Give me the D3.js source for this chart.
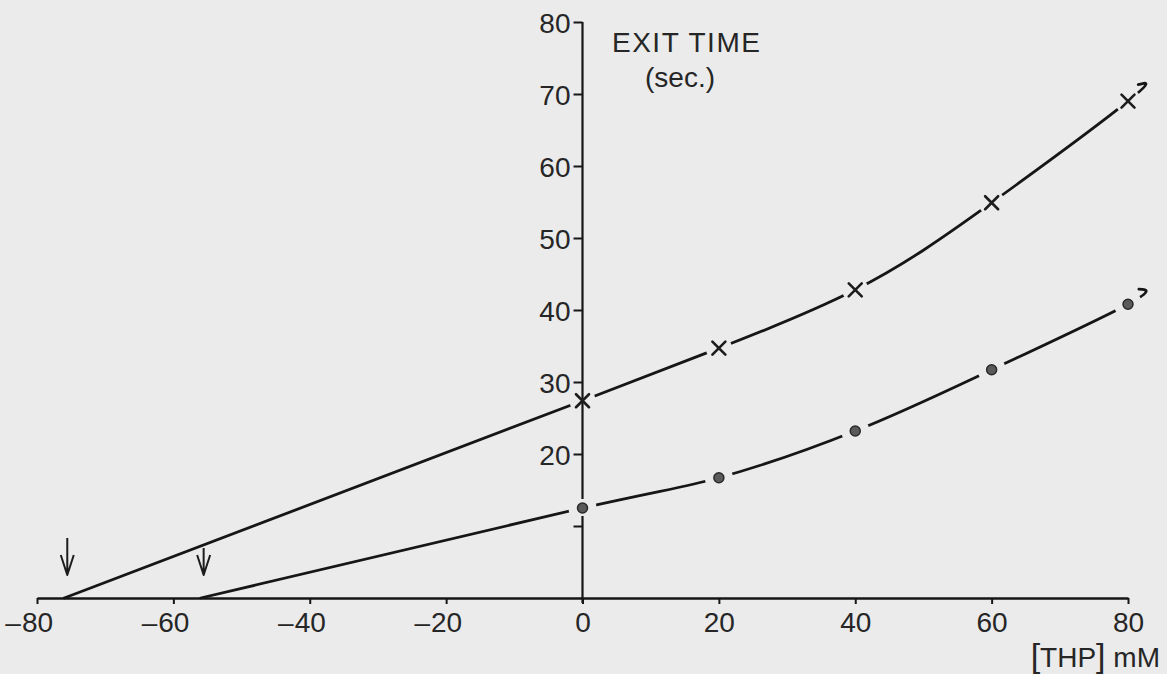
<!DOCTYPE html>
<html>
<head>
<meta charset="utf-8">
<script src="https://cdn.jsdelivr.net/npm/d3@7"></script>
<style>
  html, body { margin: 0; padding: 0; background: #ebebeb; }
  svg { display: block; }
  text { font-family: "Liberation Sans", Arial, sans-serif; fill: #262626; }
</style>
</head>
<body>
<svg id="chart" width="1167" height="674"></svg>
<script>
// ---- data ----
const thp = [0, 20, 40, 60, 80];                       // [THP] mM
const exitCross = [27.4, 34.7, 42.8, 54.9, 69.0];      // × series (sec.)
const exitDot = [12.5, 16.7, 23.2, 31.7, 40.8];        // • series (sec.)
const interceptCross = -76;                            // extrapolated x-intercepts (arrows)
const interceptDot = -56;
const extCross = [81.5, 71.3];                         // short continuation past last point
const extDot = [81.6, 42.9];
const xTicks = [-80, -60, -40, -20, 0, 20, 40, 60, 80];
const yTicks = [10, 20, 30, 40, 50, 60, 70, 80];
const yLabelled = [20, 30, 40, 50, 60, 70, 80];
const yTitle = ["EXIT TIME", "(sec.)"];
const xTitleParts = ["[", "THP", "]", " mM"];

// ---- layout ----
const W = 1167, H = 674;
const BG = "#ebebeb", INK = "#161616";
const svg = d3.select("#chart");
svg.append("rect").attr("width", W).attr("height", H).attr("fill", BG);

const x = d3.scaleLinear().domain([-80, 80]).range([37, 1128]);
const y = d3.scaleLinear().domain([0, 80]).range([598, 22]);

// curves
const line = d3.line().x(d => x(d[0])).y(d => y(d[1])).curve(d3.curveNatural);
const crossPts = [[interceptCross, 0], ...thp.map((t, i) => [t, exitCross[i]]), extCross];
const dotPts = [[interceptDot, 0], ...thp.map((t, i) => [t, exitDot[i]]), extDot];
[crossPts, dotPts].forEach(pts => {
  svg.append("path").attr("d", line(pts)).attr("fill", "none")
    .attr("stroke", INK).attr("stroke-width", 2.8).attr("stroke-linecap", "round");
});

// gaps around markers (the hand-drawn curve is broken around each point)
const gap = svg.append("g");
thp.forEach((t, i) => {
  gap.append("circle").attr("cx", x(t)).attr("cy", y(exitCross[i])).attr("r", 13).attr("fill", BG);
  gap.append("circle").attr("cx", x(t)).attr("cy", y(exitDot[i])).attr("r", 14).attr("fill", BG);
});

// x axis
const xAxis = svg.append("g").attr("transform", `translate(0,${y(0)})`)
  .call(d3.axisBottom(x).tickValues(xTicks).tickSize(6).tickSizeOuter(0).tickFormat(d => Math.abs(d)));
xAxis.attr("font-family", null).attr("font-size", null);
xAxis.select(".domain").attr("stroke", INK).attr("stroke-width", 2.6);
xAxis.selectAll(".tick line").attr("stroke", INK).attr("stroke-width", 2);
xAxis.selectAll(".tick text").attr("font-size", 28).attr("y", 14).attr("dy", "0.71em").attr("fill", "#262626");
xAxis.selectAll(".tick").each(function(d) {
  if (d < 0) {
    const t = d3.select(this).select("text");
    const w = t.node().getComputedTextLength();
    d3.select(this).append("text").text("–")
      .attr("x", -w / 2 - 1).attr("y", 14).attr("dy", "0.71em")
      .attr("text-anchor", "end").attr("font-size", 28).attr("fill", "#262626");
  }
});

// y axis
const yAxis = svg.append("g").attr("transform", `translate(${x(0)},0)`)
  .call(d3.axisLeft(y).tickValues(yTicks).tickSize(9).tickSizeOuter(0)
    .tickFormat(d => yLabelled.includes(d) ? d : ""));
yAxis.attr("font-family", null).attr("font-size", null);
yAxis.select(".domain").attr("stroke", INK).attr("stroke-width", 2.2)
  .attr("d", `M0,${y(0) + 5}V${y(exitDot[0]) + 8}M0,${y(exitDot[0]) - 9}V${y(80)}`);
yAxis.selectAll(".tick line").attr("stroke", INK).attr("stroke-width", 2);
yAxis.selectAll(".tick text").attr("font-size", 28).attr("x", -12).attr("dy", "0.36em").attr("fill", "#262626");

// axis titles
svg.append("text").attr("x", 612).attr("y", 52).attr("font-size", 28)
  .attr("letter-spacing", 1.5).text(yTitle[0]);
svg.append("text").attr("x", 645).attr("y", 87).attr("font-size", 28).text(yTitle[1]);
const xt = svg.append("text").attr("x", 1160).attr("y", 667).attr("text-anchor", "end");
xTitleParts.forEach((p, i) => {
  xt.append("tspan").attr("font-size", (i === 0 || i === 2) ? 34 : 28).text(p);
});

// markers
const s = 6.5;
thp.forEach((t, i) => {
  const cx = x(t), cy = y(exitCross[i]);
  svg.append("path").attr("d", `M${cx - s},${cy - s}L${cx + s},${cy + s}M${cx - s},${cy + s}L${cx + s},${cy - s}`)
    .attr("stroke", "#1c1c1c").attr("stroke-width", 2.6).attr("stroke-linecap", "round");
  svg.append("circle").attr("cx", x(t)).attr("cy", y(exitDot[i])).attr("r", 5)
    .attr("fill", "#5a5a5a").attr("stroke", "#2a2a2a").attr("stroke-width", 1.5);
});

// arrows at intercepts
[[interceptCross, 37], [interceptDot, 27]].forEach(([v, len]) => {
  const ax = x(v) + 3, tip = y(0) - 23;
  svg.append("path")
    .attr("d", `M${ax},${tip - len}V${tip}M${ax - 6.5},${tip - 20}L${ax},${tip}L${ax + 6.5},${tip - 20}`)
    .attr("fill", "none").attr("stroke", "#1c1c1c").attr("stroke-width", 2).attr("stroke-linejoin", "round");
});
</script>
</body>
</html>
